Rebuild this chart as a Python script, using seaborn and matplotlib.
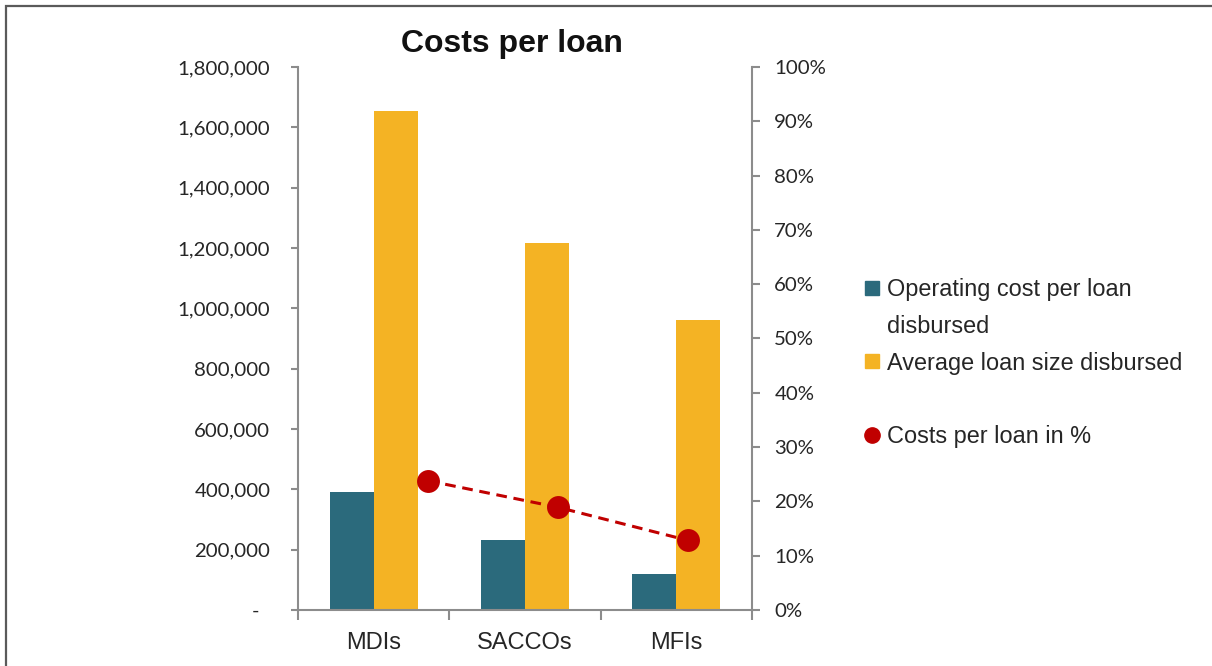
import numpy as np
import pandas as pd
import matplotlib
matplotlib.use("Agg")
import matplotlib.pyplot as plt
from matplotlib.lines import Line2D
from matplotlib.patches import Rectangle
from matplotlib.ticker import FixedLocator, FuncFormatter
import seaborn as sns

# ---- data -------------------------------------------------------------
categories = ["MDIs", "SACCOs", "MFIs"]
operating_cost = [392000, 233000, 120000]
avg_loan_size = [1655000, 1218000, 962000]
cost_pct = [0.238, 0.189, 0.128]

series_names = ["Operating cost per loan disbursed", "Average loan size disbursed"]
left_ticks = [0, 200000, 400000, 600000, 800000, 1000000, 1200000, 1400000, 1600000, 1800000]
right_ticks = [0.0, 0.1, 0.2, 0.3, 0.4, 0.5, 0.6, 0.7, 0.8, 0.9, 1.0]

TEAL = "#2B6A7C"
GOLD = "#F4B324"
RED = "#C00000"
SPINE = "#8C8C8C"
TEXT = "#262626"

sns.set_theme(style="white")
plt.rcParams["font.family"] = ["Liberation Sans", "DejaVu Sans"]

df = pd.DataFrame({
    "category": categories * 2,
    "series": [series_names[0]] * 3 + [series_names[1]] * 3,
    "value": operating_cost + avg_loan_size,
})

fig = plt.figure(figsize=(12.12, 6.66), dpi=100)
rect = [0.2459, 0.0841, 0.3746, 0.8153]
ax = fig.add_axes(rect)

sns.barplot(data=df, x="category", y="value", hue="series",
            palette=[TEAL, GOLD], width=0.58, gap=0, saturation=1,
            dodge=True, legend=False, linewidth=0, edgecolor="none", ax=ax)

ax.set_xlim(-0.5, 2.5)
ax.set_ylim(0, 1800000)
ax.set_xlabel("")
ax.set_ylabel("")

# left value axis
ax.yaxis.set_major_locator(FixedLocator(left_ticks))
ax.yaxis.set_major_formatter(FuncFormatter(lambda v, p: "-  " if v == 0 else f"{int(v):,}"))
ax.tick_params(axis="y", which="major", left=True, length=5, width=1.5,
               color=SPINE, pad=15, labelsize=14.7, labelcolor=TEXT)
for lab in ax.get_yticklabels():
    lab.set_fontfamily("Lato")

# category axis: labels centred, ticks between groups
ax.tick_params(axis="x", which="major", length=0, pad=16, labelsize=17, labelcolor=TEXT)
ax.xaxis.set_minor_locator(FixedLocator([-0.5, 0.5, 1.5, 2.5]))
ax.tick_params(axis="x", which="minor", bottom=True, length=7, width=1.5, color=SPINE)

for side in ["top", "right"]:
    ax.spines[side].set_visible(False)
for side in ["left", "bottom"]:
    ax.spines[side].set_color(SPINE)
    ax.spines[side].set_linewidth(1.5)

# percentage series on its own axis pair
ax2 = fig.add_axes(rect, facecolor="none")
sns.lineplot(x=np.arange(len(categories)), y=cost_pct, ax=ax2, color=RED,
             linewidth=2.2, linestyle=(0, (3.5, 2.2)), marker="o", markersize=16.5,
             markeredgewidth=0, markerfacecolor=RED)
ax2.set_xlim(-1.0, 2.49)
ax2.set_ylim(0, 1.0)
ax2.set_xticks([])
ax2.yaxis.tick_right()
ax2.yaxis.set_major_locator(FixedLocator(right_ticks))
ax2.yaxis.set_major_formatter(FuncFormatter(lambda v, p: f"{v:.0%}"))
ax2.tick_params(axis="y", right=True, left=False, length=6, width=1.5, color=SPINE,
                pad=10, labelsize=14.7, labelcolor=TEXT)
for lab in ax2.get_yticklabels():
    lab.set_fontfamily("Lato")
for side in ["top", "left", "bottom"]:
    ax2.spines[side].set_visible(False)
ax2.spines["right"].set_color(SPINE)
ax2.spines["right"].set_linewidth(1.5)

fig.text(0.4225, 0.934, "Costs per loan", ha="center", va="center",
         fontsize=23, fontweight="bold", color="#111111")

# legend
blank = Line2D([], [], linestyle="none", marker=None)
handles = [
    Line2D([], [], linestyle="none", marker="s", markersize=10, color=TEAL),
    blank,
    Line2D([], [], linestyle="none", marker="s", markersize=10, color=GOLD),
    blank,
    Line2D([], [], linestyle="none", marker="o", markersize=11, color=RED),
]
labels = ["Operating cost per loan", "disbursed", "Average loan size disbursed", " ",
          "Costs per loan in %"]
leg = fig.legend(handles, labels, loc="upper left", bbox_to_anchor=(0.705, 0.596),
                 frameon=False, fontsize=16.9, handlelength=0.7, handletextpad=0.3,
                 labelspacing=0.58, borderaxespad=0)
for t in leg.get_texts():
    t.set_color(TEXT)

# outer frame of the chart area
fig.patches.append(Rectangle((0.005, -0.05), 1.2, 1.041, transform=fig.transFigure,
                             fill=False, edgecolor="#5A5A5A", linewidth=1.6))

fig.savefig("out.png", dpi=100)
